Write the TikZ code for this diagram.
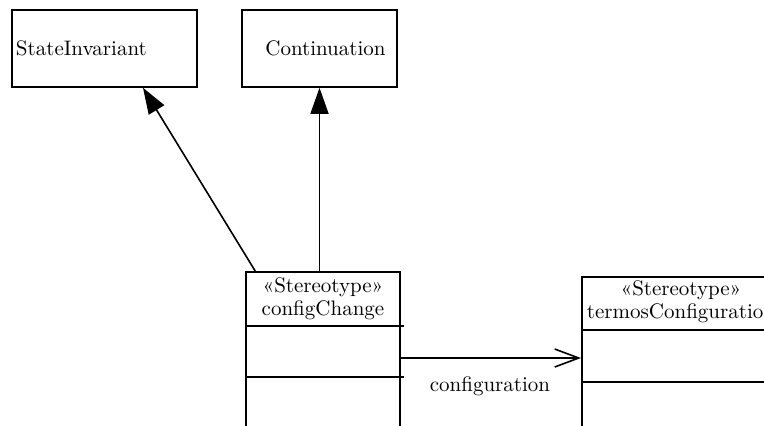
\documentclass[tikz,border=0pt]{standalone}
\usetikzlibrary{arrows.meta,calc}
\begin{document}
\begin{tikzpicture}[x=0.5pt,y=-0.5pt,
  every node/.style={font=\fontsize{10.5}{11.5}\selectfont},
  box/.style={draw,line width=0.8pt,inner sep=2pt},
  conn/.style={line width=0.8pt},
  gen/.style={conn,-{Triangle[length=13pt,width=9pt]}},
  assoc/.style={conn,-{Straight Barb[length=12pt,width=9pt,line width=0.8pt]}}]
\useasboundingbox (0,0) rectangle (764,425);
% top classes
\node (si) [box, minimum width=92.5pt, minimum height=38.5pt, text width=88.5pt, align=left] at (104.5,48.5) {StateInvariant};
\node (cont) [box, minimum width=77.5pt, minimum height=38.5pt, align=center] at (319.5,48.5) {\hspace{6pt}Continuation};
% configChange class
\node (cc) [box, minimum width=77pt, minimum height=115pt, anchor=north] at (323,271) {};
\node (cct) [align=center, inner sep=0pt] at (323,299) {«Stereotype»\\configChange};
\draw[conn] ($(cc.north west)+(0,55)$) -- ($(cc.north east)+(3,55)$);
\draw[conn] ($(cc.north west)+(0,106)$) -- ($(cc.north east)+(3,106)$);
% termosConfiguration class
\node (tc) [box, minimum width=99pt, minimum height=115pt, anchor=north west] at (581,276) {};
\node (tct) [align=center, inner sep=0pt] at (681,302) {«Stereotype»\\termosConfiguration};
\draw[conn] ($(tc.north west)+(0,54)$) -- ($(tc.north east)+(0,54)$);
\draw[conn] ($(tc.north west)+(0,106)$) -- ($(tc.north east)+(0,106)$);
% connectors
\draw[gen] ($(cc.north west)+(10,0)$) -- ($(si.south)+(38.5,0)$);
\draw[gen] (cont.south |- cc.north) -- (cont.south);
\draw[assoc] ($(cc.north east)+(0,87)$) -- ($(tc.north west)+(0,82)$);
\node (lbl) at (490,386) {configuration};
\end{tikzpicture}
\end{document}
